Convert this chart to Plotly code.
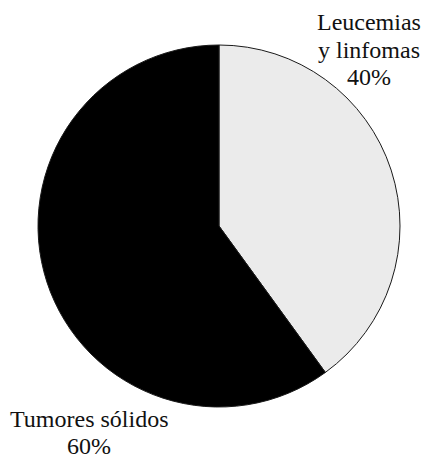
import plotly.graph_objects as go

labels = ["Leucemias y linfomas", "Tumores sólidos"]
values = [40, 60]
label_lines = [["Leucemias", "y linfomas", "40%"], ["Tumores sólidos", "60%"]]
colors = ["#ebebeb", "#000000"]

W, H = 423, 455
cx, cy, r = 219, 226, 181

fig = go.Figure(go.Pie(
    labels=labels, values=values, sort=False, direction="clockwise", rotation=0,
    marker=dict(colors=colors, line=dict(color="#1a1a1a", width=1)),
    textinfo="none", hoverinfo="label+percent", showlegend=False,
    domain=dict(x=[(cx - r) / W, (cx + r) / W], y=[(H - cy - r) / H, (H - cy + r) / H]),
))

def px_ann(text, x, y):
    return dict(text=text, x=x / W, y=1 - y / H, xref="paper", yref="paper",
                xanchor="center", yanchor="middle", showarrow=False,
                font=dict(family="Liberation Serif, Times New Roman, serif", size=24, color="#111111"))

anns = []
right_y = [22, 49.5, 77]
for t, y in zip(label_lines[0], right_y):
    anns.append(px_ann(t, 369, y))
left_y = [419, 446]
for t, y in zip(label_lines[1], left_y):
    anns.append(px_ann(t, 89, y))

fig.update_layout(width=W, height=H, margin=dict(l=0, r=0, t=0, b=0),
                  paper_bgcolor="white", plot_bgcolor="white", annotations=anns,
                  font=dict(family="Liberation Serif, serif"))
fig.write_html("out.html")
